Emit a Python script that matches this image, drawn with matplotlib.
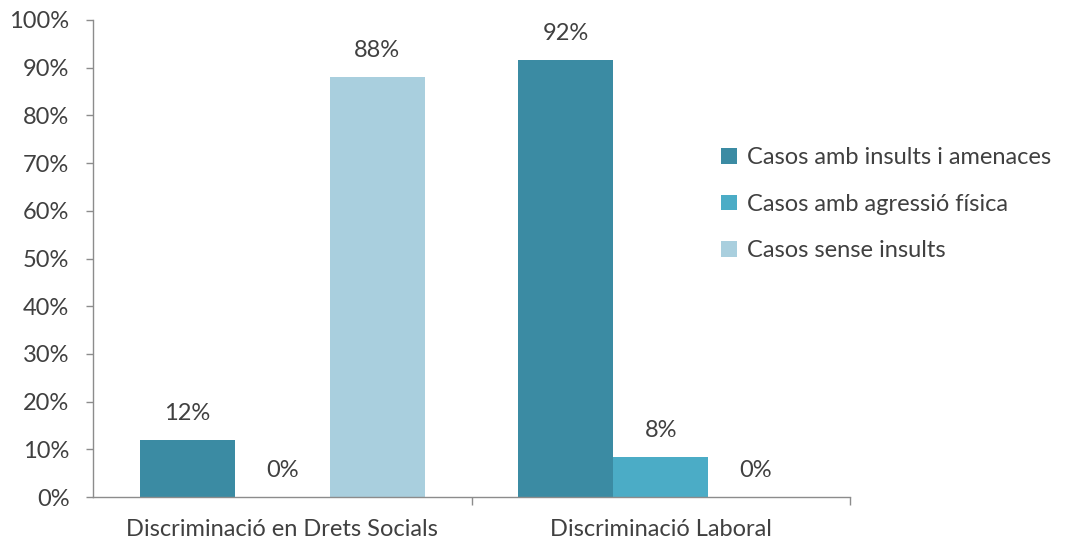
import matplotlib
matplotlib.use("Agg")
import matplotlib.pyplot as plt
import numpy as np
from matplotlib.ticker import FixedLocator, PercentFormatter

categories = ["Discriminació en Drets Socials", "Discriminació Laboral"]
series_names = ["Casos amb insults i amenaces", "Casos amb agressió física", "Casos sense insults"]
insults = [12, 91.67]
agressio = [0, 8.33]
sense = [88, 0]
colors = ["#3B8BA3", "#4BACC6", "#A9CFDE"]

plt.rcParams['font.family'] = ['Lato', 'DejaVu Sans']
text_color = "#404040"
axis_color = "#8C8C8C"
fs = 17

fig = plt.figure(figsize=(10.66, 5.45), dpi=100)
ax = fig.add_axes([93/1066, 1-497/545, (850-93)/1066, (497-20)/545])

x = np.arange(len(categories))
w = 0.251
for i, (vals, name, c) in enumerate(zip([insults, agressio, sense], series_names, colors)):
    pos = x + (i - 1) * w
    ax.bar(pos, vals, width=w, color=c, label=name, zorder=2)
    for p, v in zip(pos, vals):
        ax.annotate(f"{v:.0f}%", (p, v), xytext=(0, 19), textcoords="offset points",
                    ha="center", va="center", fontsize=fs, color=text_color)

ax.set_xlim(-0.5, 1.5)
ax.set_ylim(0, 100)
ax.set_yticks(np.arange(0, 101, 10))
ax.yaxis.set_major_formatter(PercentFormatter(decimals=0))
ax.set_xticks(x)
ax.set_xticklabels(categories)
ax.xaxis.set_minor_locator(FixedLocator([0.5, 1.5]))
ax.tick_params(axis='x', which='major', length=0, pad=16, labelsize=fs, labelcolor=text_color)
ax.tick_params(axis='x', which='minor', length=6, width=1, color=axis_color)
ax.tick_params(axis='y', length=5, width=1, color=axis_color, labelsize=fs, labelcolor=text_color, pad=12)

for s in ["top", "right"]:
    ax.spines[s].set_visible(False)
for s in ["left", "bottom"]:
    ax.spines[s].set_color(axis_color)
    ax.spines[s].set_linewidth(1)

leg = fig.legend(loc="upper left", bbox_to_anchor=(700/1066, 1-126/545), frameon=False,
                 fontsize=fs, handlelength=0.65, handleheight=0.65, handletextpad=0.45,
                 labelspacing=1.08, labelcolor=text_color)

fig.savefig("out.png", dpi=100)
